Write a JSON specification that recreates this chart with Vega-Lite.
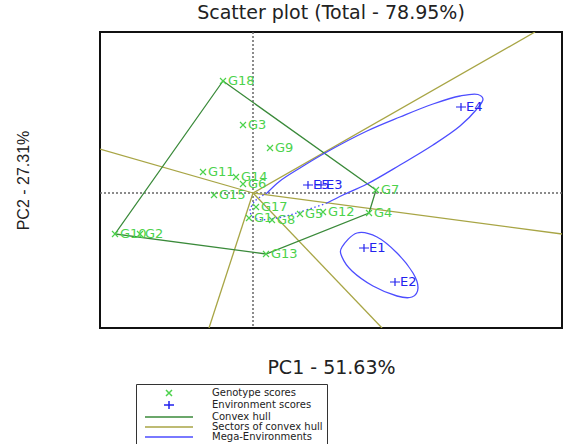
{
  "$schema": "https://vega.github.io/schema/vega-lite/v6.json",
  "width": 462,
  "height": 296,
  "autosize": {"type": "none"},
  "padding": {"left": 100, "top": 32, "right": 1, "bottom": 116},
  "title": {"text": "Scatter plot (Total - 78.95%)", "font": "DejaVu Sans", "fontSize": 19, "fontWeight": "normal", "color": "#222222", "offset": 8, "anchor": "middle"},
  "config": {
    "view": {"stroke": "#111111", "strokeWidth": 2},
    "axis": {"grid": false, "ticks": false, "labels": false, "domain": false},
    "axisX": {"titleFont": "DejaVu Sans", "titleFontSize": 19, "titleFontWeight": "normal", "titleColor": "#222222", "titlePadding": 30},
    "axisY": {"titleFont": "Liberation Sans", "titleFontSize": 16, "titleFontWeight": "normal", "titleColor": "#222222", "titlePadding": 69}
  },
  "datasets": {
    "scores": [
      {"label": "G18", "type": "Genotype scores", "x": -0.60, "y": 2.24},
      {"label": "G3", "type": "Genotype scores", "x": -0.20, "y": 1.36},
      {"label": "G9", "type": "Genotype scores", "x": 0.34, "y": 0.90},
      {"label": "G11", "type": "Genotype scores", "x": -1.00, "y": 0.42},
      {"label": "G14", "type": "Genotype scores", "x": -0.34, "y": 0.32},
      {"label": "G6", "type": "Genotype scores", "x": -0.20, "y": 0.18},
      {"label": "G15", "type": "Genotype scores", "x": -0.78, "y": -0.04},
      {"label": "G17", "type": "Genotype scores", "x": 0.06, "y": -0.28},
      {"label": "G1", "type": "Genotype scores", "x": -0.08, "y": -0.50},
      {"label": "G8", "type": "Genotype scores", "x": 0.38, "y": -0.54},
      {"label": "G5", "type": "Genotype scores", "x": 0.94, "y": -0.42},
      {"label": "G12", "type": "Genotype scores", "x": 1.40, "y": -0.38},
      {"label": "G7", "type": "Genotype scores", "x": 2.46, "y": 0.06},
      {"label": "G4", "type": "Genotype scores", "x": 2.32, "y": -0.40},
      {"label": "G13", "type": "Genotype scores", "x": 0.26, "y": -1.22},
      {"label": "G10", "type": "Genotype scores", "x": -2.76, "y": -0.82},
      {"label": "G2", "type": "Genotype scores", "x": -2.26, "y": -0.82},
      {"label": "E4", "type": "Environment scores", "x": 4.16, "y": 1.72},
      {"label": "E5", "type": "Environment scores", "x": 1.10, "y": 0.16},
      {"label": "E3", "type": "Environment scores", "x": 1.36, "y": 0.16},
      {"label": "E1", "type": "Environment scores", "x": 2.22, "y": -1.10},
      {"label": "E2", "type": "Environment scores", "x": 2.84, "y": -1.78}
    ],
    "hull": [
      {"i": 0, "x": -0.60, "y": 2.24},
      {"i": 1, "x": 2.46, "y": 0.06},
      {"i": 2, "x": 2.32, "y": -0.40},
      {"i": 3, "x": 0.26, "y": -1.22},
      {"i": 4, "x": -2.76, "y": -0.82},
      {"i": 5, "x": -0.60, "y": 2.24}
    ],
    "sectors": [
      {"ray": "r1", "i": 0, "x": 0, "y": 0}, {"ray": "r1", "i": 1, "x": -3.06, "y": 0.88},
      {"ray": "r2", "i": 0, "x": 0, "y": 0}, {"ray": "r2", "i": 1, "x": 6.18, "y": -0.82},
      {"ray": "r3", "i": 0, "x": 0, "y": 0}, {"ray": "r3", "i": 1, "x": 5.64, "y": 3.22},
      {"ray": "r4", "i": 0, "x": 0, "y": 0}, {"ray": "r4", "i": 1, "x": 2.58, "y": -2.70},
      {"ray": "r5", "i": 0, "x": 0, "y": 0}, {"ray": "r5", "i": 1, "x": -0.88, "y": -2.70}
    ],
    "ellipses": [
      {"seg": "a", "i": 0, "x": 0.28, "y": 0.00},
      {"seg": "a", "i": 1, "x": 0.54, "y": 0.24},
      {"seg": "a", "i": 2, "x": 0.94, "y": 0.50},
      {"seg": "a", "i": 3, "x": 1.44, "y": 0.80},
      {"seg": "a", "i": 4, "x": 2.28, "y": 1.24},
      {"seg": "a", "i": 5, "x": 2.94, "y": 1.52},
      {"seg": "a", "i": 6, "x": 3.60, "y": 1.78},
      {"seg": "a", "i": 7, "x": 4.14, "y": 1.94},
      {"seg": "a", "i": 8, "x": 4.50, "y": 1.97},
      {"seg": "a", "i": 9, "x": 4.60, "y": 1.88},
      {"seg": "a", "i": 10, "x": 4.46, "y": 1.66},
      {"seg": "a", "i": 11, "x": 4.14, "y": 1.34},
      {"seg": "a", "i": 12, "x": 3.60, "y": 0.96},
      {"seg": "a", "i": 13, "x": 2.94, "y": 0.56},
      {"seg": "a", "i": 14, "x": 2.28, "y": 0.18},
      {"seg": "a", "i": 15, "x": 1.80, "y": -0.04},
      {"seg": "a", "i": 16, "x": 1.48, "y": -0.20},
      {"seg": "d", "i": 0, "x": 1.48, "y": -0.20},
      {"seg": "d", "i": 1, "x": 0.94, "y": -0.38},
      {"seg": "d", "i": 2, "x": 0.48, "y": -0.50},
      {"seg": "d", "i": 3, "x": 0.08, "y": -0.52},
      {"seg": "d", "i": 4, "x": -0.06, "y": -0.38},
      {"seg": "d", "i": 5, "x": 0.04, "y": -0.16},
      {"seg": "d", "i": 6, "x": 0.28, "y": 0.00},
      {"seg": "b", "i": 0, "x": 1.78, "y": -1.08},
      {"seg": "b", "i": 1, "x": 2.08, "y": -0.80},
      {"seg": "b", "i": 2, "x": 2.48, "y": -0.88},
      {"seg": "b", "i": 3, "x": 2.88, "y": -1.20},
      {"seg": "b", "i": 4, "x": 3.20, "y": -1.60},
      {"seg": "b", "i": 5, "x": 3.30, "y": -1.90},
      {"seg": "b", "i": 6, "x": 3.18, "y": -2.08},
      {"seg": "b", "i": 7, "x": 2.88, "y": -2.06},
      {"seg": "b", "i": 8, "x": 2.40, "y": -1.86},
      {"seg": "b", "i": 9, "x": 1.98, "y": -1.56},
      {"seg": "b", "i": 10, "x": 1.78, "y": -1.28}
    ],
    "origin": [{"v": 0}]
  },
  "layer": [
    {
      "data": {"name": "origin"},
      "mark": {"type": "rule", "color": "#666666", "strokeDash": [2, 2], "strokeWidth": 1.5},
      "encoding": {
        "x": {"field": "v", "type": "quantitative", "title": "PC1 - 51.63%", "scale": {"domain": [-3.06, 6.18], "nice": false, "zero": false}}
      }
    },
    {
      "data": {"name": "origin"},
      "mark": {"type": "rule", "color": "#666666", "strokeDash": [2, 2], "strokeWidth": 1.5},
      "encoding": {
        "y": {"field": "v", "type": "quantitative", "title": "PC2 - 27.31%", "scale": {"domain": [-2.70, 3.22], "nice": false, "zero": false}}
      }
    },
    {
      "data": {"name": "sectors"},
      "mark": {"type": "line", "color": "#a8a545", "strokeWidth": 1.3, "clip": true},
      "encoding": {
        "x": {"field": "x", "type": "quantitative", "title": "PC1 - 51.63%"},
        "y": {"field": "y", "type": "quantitative", "title": "PC2 - 27.31%"},
        "detail": {"field": "ray"},
        "order": {"field": "i", "type": "quantitative"}
      }
    },
    {
      "data": {"name": "hull"},
      "mark": {"type": "line", "color": "#3a8a3a", "strokeWidth": 1.3},
      "encoding": {
        "x": {"field": "x", "type": "quantitative", "title": "PC1 - 51.63%"},
        "y": {"field": "y", "type": "quantitative", "title": "PC2 - 27.31%"},
        "order": {"field": "i", "type": "quantitative"}
      }
    },
    {
      "data": {"name": "ellipses"},
      "transform": [{"filter": "datum.seg == 'a'"}],
      "mark": {"type": "line", "color": "#4d4dff", "strokeWidth": 1.3, "interpolate": "catmull-rom"},
      "encoding": {
        "x": {"field": "x", "type": "quantitative", "title": "PC1 - 51.63%"},
        "y": {"field": "y", "type": "quantitative", "title": "PC2 - 27.31%"},
        "order": {"field": "i", "type": "quantitative"}
      }
    },
    {
      "data": {"name": "ellipses"},
      "transform": [{"filter": "datum.seg == 'b'"}],
      "mark": {"type": "line", "color": "#4d4dff", "strokeWidth": 1.3, "interpolate": "cardinal-closed"},
      "encoding": {
        "x": {"field": "x", "type": "quantitative", "title": "PC1 - 51.63%"},
        "y": {"field": "y", "type": "quantitative", "title": "PC2 - 27.31%"},
        "order": {"field": "i", "type": "quantitative"}
      }
    },
    {
      "data": {"name": "ellipses"},
      "transform": [{"filter": "datum.seg == 'd'"}],
      "mark": {"type": "line", "color": "#4d4dff", "strokeWidth": 1.3, "strokeDash": [1.5, 2.5], "interpolate": "catmull-rom"},
      "encoding": {
        "x": {"field": "x", "type": "quantitative", "title": "PC1 - 51.63%"},
        "y": {"field": "y", "type": "quantitative", "title": "PC2 - 27.31%"},
        "order": {"field": "i", "type": "quantitative"}
      }
    },
    {
      "data": {"name": "scores"},
      "mark": {"type": "point", "filled": false, "size": 64, "strokeWidth": 1.2, "opacity": 1},
      "encoding": {
        "x": {"field": "x", "type": "quantitative", "title": "PC1 - 51.63%"},
        "y": {"field": "y", "type": "quantitative", "title": "PC2 - 27.31%"},
        "shape": {
          "field": "type", "type": "nominal",
          "scale": {
            "domain": ["Genotype scores", "Environment scores", "Convex hull", "Sectors of convex hull", "Mega-Environments"],
            "range": ["M-0.75,-0.75L0.75,0.75M-0.75,0.75L0.75,-0.75", "M-1.25,0L1.25,0M0,-1L0,1", "M-6,0L6,0", "M-6,0L6,0", "M-6,0L6,0"]
          },
          "legend": {"orient": "none", "legendX": 36, "legendY": 352, "title": null, "padding": 4, "strokeColor": "#333333", "fillColor": "white", "symbolSize": 64, "symbolStrokeWidth": 1.5, "symbolOffset": 24, "labelOffset": 38, "labelFont": "DejaVu Sans", "labelFontSize": 10, "labelColor": "#222222", "rowPadding": -1}
        },
        "color": {
          "field": "type", "type": "nominal",
          "scale": {
            "domain": ["Genotype scores", "Environment scores", "Convex hull", "Sectors of convex hull", "Mega-Environments"],
            "range": ["#4cd24c", "#2222ee", "#3a8a3a", "#a8a545", "#4d4dff"]
          },
          "legend": {"orient": "none", "legendX": 36, "legendY": 352, "title": null, "padding": 4, "strokeColor": "#333333", "fillColor": "white", "symbolSize": 64, "symbolStrokeWidth": 1.5, "symbolOffset": 24, "labelOffset": 38, "labelFont": "DejaVu Sans", "labelFontSize": 10, "labelColor": "#222222", "rowPadding": -1}
        }
      }
    },
    {
      "data": {"name": "scores"},
      "mark": {"type": "text", "align": "left", "baseline": "middle", "dx": 5, "font": "DejaVu Sans", "fontSize": 13},
      "encoding": {
        "x": {"field": "x", "type": "quantitative", "title": "PC1 - 51.63%"},
        "y": {"field": "y", "type": "quantitative", "title": "PC2 - 27.31%"},
        "text": {"field": "label"},
        "color": {"field": "type", "type": "nominal", "legend": null}
      }
    }
  ]
}
